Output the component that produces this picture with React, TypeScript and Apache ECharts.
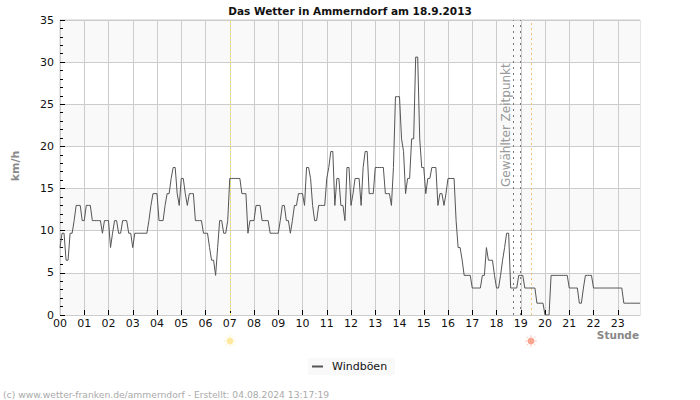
import React, { useEffect, useRef } from "react";
import * as echarts from "echarts";

const h00 = [8, 9.7, 9.7, 6.5, 6.5, 9.7, 9.7, 11.2, 13, 13, 13, 11.2];
const h01 = [11.2, 13, 13, 13, 11.2, 11.2, 11.2, 11.2, 11.2, 9.7, 11.2, 11.2];
const h02 = [11.2, 8, 9.7, 11.2, 11.2, 9.7, 9.7, 11.2, 11.2, 11.2, 9.7, 9.7];
const h03 = [8, 9.7, 9.7, 9.7, 9.7, 9.7, 9.7, 9.7, 11.2, 13, 14.4, 14.4];
const h04 = [14.4, 11.2, 11.2, 11.2, 13, 14.4, 14.4, 16.2, 17.5, 17.5, 14.4, 13];
const h05 = [16.2, 16.2, 14.4, 13, 14.4, 14.4, 14.4, 11.2, 11.2, 11.2, 11.2, 9.7];
const h06 = [9.7, 9.7, 8, 6.5, 6.5, 4.7, 8, 11.2, 11.2, 9.7, 9.7, 11.2];
const h07 = [16.2, 16.2, 16.2, 16.2, 16.2, 16.2, 14.4, 14.4, 14.4, 9.7, 11.2, 11.2];
const h08 = [11.2, 13, 13, 13, 11.2, 11.2, 11.2, 11.2, 9.7, 9.7, 9.7, 9.7];
const h09 = [9.7, 11.2, 13, 13, 11.2, 11.2, 9.7, 11.2, 13, 13, 14.4, 14.4];
const h10 = [14.4, 13, 17.5, 17.5, 16.2, 13, 11.2, 11.2, 13, 13, 13];
const h11 = [13, 16.2, 17.5, 19.4, 19.4, 13, 16.2, 16.2, 13, 13, 11.2, 17.5];
const h12 = [17.5, 13, 14.4, 16.2, 16.2, 16.2, 13, 17.5, 19.4, 19.4, 14.4, 14.4];
const h13 = [14.4, 17.5, 17.5, 17.5, 17.5, 17.5, 14.4, 14.4, 14.4, 13, 17.5, 25.9];
const h14 = [25.9, 25.9, 20.9, 19.4, 14.4, 16.2, 16.2, 20.9, 20.9, 30.6, 30.6, 20.9];
const h15 = [17.5, 17.5, 14.4, 16.2, 16.2, 17.5, 17.5, 17.5, 13, 14.4, 14.4, 13];
const h16 = [14.4, 16.2, 16.2, 16.2, 16.2, 11.2, 8, 8, 6.5, 4.7, 4.7, 4.7];
const h17 = [4.7, 3.2, 3.2, 3.2, 3.2, 3.2, 4.7, 4.7, 8, 6.5, 6.5, 6.5];
const h18 = [4.7, 3.2, 3.2, 4.7, 6.5, 8, 9.7, 9.7, 3.2, 3.2, 3.2, 3.2];
const h19 = [4.7, 4.7, 4.7, 3.2, 3.2, 3.2, 3.2, 3.2, 3.2, 1.4, 1.4, 1.4];
const h20 = [1.4, 0, 0, 0, 4.7, 4.7, 4.7, 4.7, 4.7, 4.7, 4.7, 4.7];
const h21 = [4.7, 3.2, 3.2, 3.2, 3.2, 3.2, 1.4, 1.4, 3.2, 4.7, 4.7, 4.7];
const h22 = [4.7, 3.2, 3.2, 3.2, 3.2, 3.2, 3.2, 3.2, 3.2, 3.2, 3.2, 3.2];
const h23 = [3.2, 3.2, 3.2, 3.2, 1.4, 1.4, 1.4, 1.4, 1.4, 1.4, 1.4, 1.4, 1.4];

const gusts = [
  ...h00, ...h01, ...h02, ...h03, ...h04, ...h05, ...h06, ...h07, ...h08, ...h09, ...h10, ...h11,
  ...h12, ...h13, ...h14, ...h15, ...h16, ...h17, ...h18, ...h19, ...h20, ...h21, ...h22, ...h23,
];
const hourLabels = ["00","01","02","03","04","05","06","07","08","09","10","11","12","13","14","15","16","17","18","19","20","21","22","23"];
const sunriseMin = 420;
const sunsetMin = 1167;
const selectedMin = [1122, 1138];

const FONT = "DejaVu Sans";
const GRID = "#cccccc";

function sun(cx: number, cy: number, fill: string, ray: string) {
  const rays = [0, 1, 2, 3, 4, 5, 6, 7].map((k) => {
    const a = (k * Math.PI) / 4;
    return {
      type: "line",
      shape: {
        x1: cx + Math.cos(a) * 4,
        y1: cy + Math.sin(a) * 4,
        x2: cx + Math.cos(a) * 6,
        y2: cy + Math.sin(a) * 6,
      },
      style: { stroke: ray, lineWidth: 1 },
      silent: true,
    };
  });
  return [...rays, { type: "circle", shape: { cx, cy, r: 3.5 }, style: { fill }, silent: true }];
}

export default function App() {
  const ref = useRef<HTMLDivElement>(null);
  useEffect(() => {
    const chart = echarts.init(ref.current!, undefined, { renderer: "svg" });
    chart.setOption({
      animation: false,
      backgroundColor: "#fff",
      title: {
        text: "Das Wetter in Ammerndorf am 18.9.2013",
        left: 345,
        top: 0,
        textAlign: "center",
        textStyle: { fontFamily: FONT, fontSize: 10.5, fontWeight: "bold", color: "#111" },
      },
      grid: { left: 60, right: 60, top: 20, bottom: 85, show: true, borderColor: GRID, borderWidth: 1 },
      legend: {
        data: ["Windböen"],
        left: 308,
        top: 358,
        padding: [3, 8, 3, 4],
        itemGap: 0,
        itemWidth: 11,
        itemHeight: 2,
        backgroundColor: "#f9f9f9",
        icon: "rect",
        textStyle: { fontFamily: FONT, fontSize: 11, color: "#111", padding: [0, 0, 0, 4] },
      },
      xAxis: {
        type: "value",
        min: 0,
        max: 1435,
        interval: 60,
        axisLine: { show: true, lineStyle: { color: GRID } },
        axisTick: {
          show: true,
          inside: true,
          length: 5,
          lineStyle: { color: "#000" },
          customValues: hourLabels.slice(1).map((_, i) => (i + 1) * 60),
        },
        axisLabel: {
          fontFamily: FONT,
          fontSize: 11,
          color: "#111",
          margin: 3,
          customValues: hourLabels.map((_, i) => i * 60),
          formatter: (v: number) => hourLabels[Math.round(v / 60)] ?? "",
        },
        splitLine: { show: true, lineStyle: { color: GRID, width: 1 } },
      },
      yAxis: {
        type: "value",
        min: 0,
        max: 35,
        interval: 5,
        axisLine: { show: true, lineStyle: { color: GRID } },
        axisTick: { show: true, inside: true, length: 5, lineStyle: { color: "#000" } },
        minorTick: { show: true, splitNumber: 5, length: 3, lineStyle: { color: "#000" } },
        axisLabel: { fontFamily: FONT, fontSize: 11, color: "#111", margin: 6 },
        splitLine: { show: true, lineStyle: { color: GRID, width: 1 } },
        splitArea: { show: true, areaStyle: { color: ["#f9f9f9", "#ffffff"] } },
      },
      series: [
        {
          name: "Windböen",
          type: "line",
          symbol: "none",
          data: gusts.map((v, i) => [i * 5, v]),
          lineStyle: { color: "#555", width: 1 },
          itemStyle: { color: "#555" },
          z: 5,
          markLine: {
            silent: true,
            symbol: "none",
            label: { show: false },
            data: [
              { xAxis: sunriseMin, lineStyle: { color: "#f5e663", type: [2, 2], width: 1 } },
              { xAxis: sunsetMin, lineStyle: { color: "#f6c178", type: [2, 3], width: 1 } },
              ...selectedMin.map((m) => ({ xAxis: m, lineStyle: { color: "#777", type: [2, 4], width: 1 } })),
            ],
          },
        },
      ],
      graphic: [
        {
          type: "text",
          x: 506,
          y: 187,
          z: 100,
          rotation: Math.PI / 2,
          style: {
            text: "Gewählter Zeitpunkt",
            fontFamily: FONT,
            fontSize: 12,
            fill: "#999",
            align: "left",
            verticalAlign: "middle",
          },
          silent: true,
        },
        {
          type: "text",
          x: 15,
          y: 166,
          z: 100,
          rotation: Math.PI / 2,
          style: {
            text: "km/h",
            fontFamily: FONT,
            fontSize: 11,
            fontWeight: "bold",
            fill: "#888",
            align: "center",
            verticalAlign: "middle",
          },
          silent: true,
        },
        {
          type: "text",
          x: 639,
          y: 335,
          z: 100,
          style: {
            text: "Stunde",
            fontFamily: FONT,
            fontSize: 10.5,
            fontWeight: "bold",
            fill: "#888",
            align: "right",
            verticalAlign: "middle",
          },
          silent: true,
        },
        {
          type: "text",
          x: 3,
          y: 394,
          z: 100,
          style: {
            text: "(c) www.wetter-franken.de/ammerndorf - Erstellt: 04.08.2024 13:17:19",
            fontFamily: FONT,
            fontSize: 9.2,
            fill: "#aaa",
            align: "left",
            verticalAlign: "middle",
          },
          silent: true,
        },
        ...sun(230, 341, "#ffe9a0", "#fff0c4"),
        ...sun(531, 341, "#f9a58f", "#fbc9bb"),
      ],
    });
    return () => chart.dispose();
  }, []);
  return <div ref={ref} style={{ width: 700, height: 400, position: "absolute", left: 0, top: 0 }} />;
}
